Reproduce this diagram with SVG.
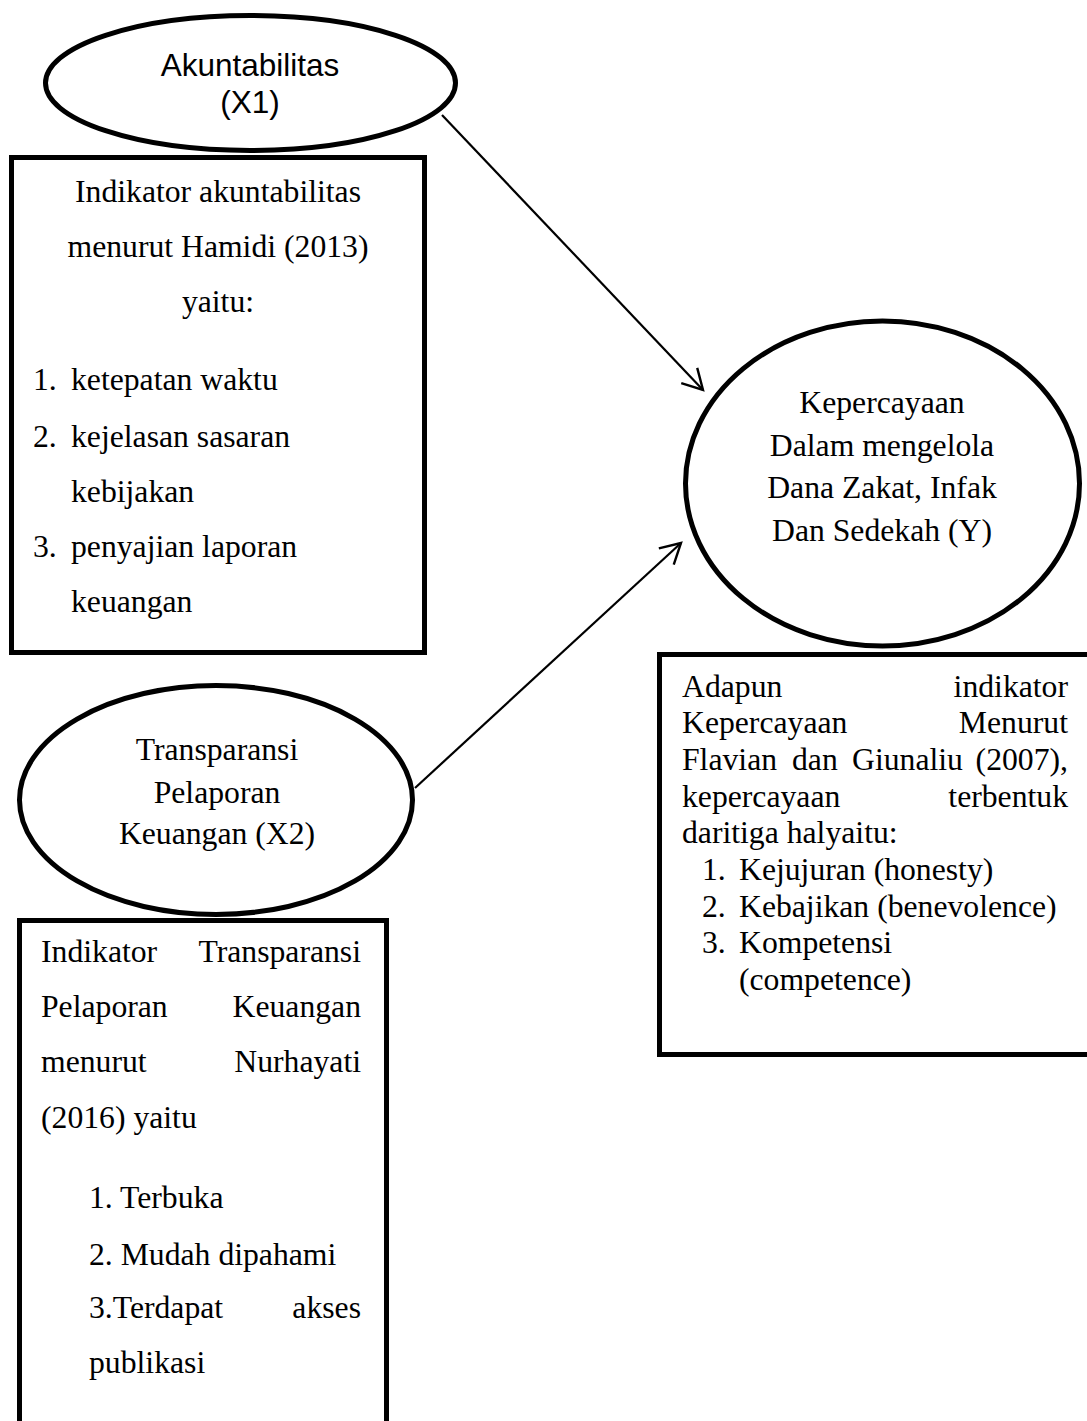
<svg xmlns="http://www.w3.org/2000/svg" width="1087" height="1421" viewBox="0 0 1087 1421">
<style>
.shape{fill:#fff;stroke:#000;stroke-width:5}
.conn{fill:none;stroke:#000;stroke-width:2.2}
.sans{font-family:"Liberation Sans",Arial,sans-serif;font-size:31.5px;fill:#000}
.serif{font-family:"Liberation Serif","Times New Roman",serif;font-size:31.7px;fill:#000}
.mid{text-anchor:middle}
.end{text-anchor:end}
</style>
<defs>
<marker id="arr" markerUnits="userSpaceOnUse" viewBox="-24 -14 27 28" markerWidth="27" markerHeight="28" refX="0" refY="0" orient="auto">
<path d="M-20,-11 L0,0 L-20,11" fill="none" stroke="#000" stroke-width="2.4"/>
</marker>
</defs>
<rect width="1087" height="1421" fill="#fff"/>

<g id="connectors">
<line class="conn" x1="442" y1="115" x2="703" y2="390" marker-end="url(#arr)"/>
<line class="conn" x1="415" y1="788" x2="681" y2="543" marker-end="url(#arr)"/>
</g>

<g id="box-x1-indicators">
<rect class="shape" x="11.5" y="157.5" width="413" height="495"/>
<text class="serif mid" x="218" y="202">Indikator akuntabilitas</text>
<text class="serif mid" x="218" y="257">menurut Hamidi (2013)</text>
<text class="serif mid" x="218" y="312">yaitu:</text>
<text class="serif" x="33" y="390">1.</text><text class="serif" x="71" y="390">ketepatan waktu</text>
<text class="serif" x="33" y="447">2.</text><text class="serif" x="71" y="447">kejelasan sasaran</text>
<text class="serif" x="71" y="502">kebijakan</text>
<text class="serif" x="33" y="557">3.</text><text class="serif" x="71" y="557">penyajian laporan</text>
<text class="serif" x="71" y="612">keuangan</text>
</g>

<g id="node-x1">
<ellipse class="shape" cx="250.5" cy="83" rx="205" ry="67.5"/>
<text class="sans mid" x="250" y="76">Akuntabilitas</text>
<text class="sans mid" x="250" y="113">(X1)</text>
</g>

<g id="box-y-indicators">
<rect class="shape" x="659.5" y="654.5" width="440" height="400"/>
<text class="serif" x="682" y="697">Adapun</text><text class="serif end" x="1068" y="697">indikator</text>
<text class="serif" x="682" y="733">Kepercayaan</text><text class="serif end" x="1068" y="733">Menurut</text>
<text class="serif" x="682" y="770">Flavian</text><text class="serif" x="792" y="770">dan</text><text class="serif" x="852" y="770">Giunaliu</text><text class="serif end" x="1068" y="770">(2007),</text>
<text class="serif" x="682" y="807">kepercayaan</text><text class="serif end" x="1068" y="807">terbentuk</text>
<text class="serif" x="682" y="843">daritiga halyaitu:</text>
<text class="serif" x="702" y="880">1.</text><text class="serif" x="739" y="880">Kejujuran (honesty)</text>
<text class="serif" x="702" y="917">2.</text><text class="serif" x="739" y="917">Kebajikan (benevolence)</text>
<text class="serif" x="702" y="953">3.</text><text class="serif" x="739" y="953">Kompetensi</text>
<text class="serif" x="739" y="990">(competence)</text>
</g>

<g id="node-y">
<ellipse class="shape" cx="882.5" cy="483.5" rx="197" ry="162.5"/>
<text class="serif mid" x="882" y="413">Kepercayaan</text>
<text class="serif mid" x="882" y="456">Dalam mengelola</text>
<text class="serif mid" x="882" y="498">Dana Zakat, Infak</text>
<text class="serif mid" x="882" y="541">Dan Sedekah (Y)</text>
</g>

<g id="box-x2-indicators">
<rect class="shape" x="19.5" y="920.5" width="367" height="600"/>
<text class="serif" x="41" y="962">Indikator</text><text class="serif end" x="361" y="962">Transparansi</text>
<text class="serif" x="41" y="1017">Pelaporan</text><text class="serif end" x="361" y="1017">Keuangan</text>
<text class="serif" x="41" y="1072">menurut</text><text class="serif end" x="361" y="1072">Nurhayati</text>
<text class="serif" x="41" y="1128">(2016) yaitu</text>
<text class="serif" x="89" y="1208">1. Terbuka</text>
<text class="serif" x="89" y="1265">2. Mudah dipahami</text>
<text class="serif" x="89" y="1318">3.Terdapat</text><text class="serif end" x="361" y="1318">akses</text>
<text class="serif" x="89" y="1373">publikasi</text>
</g>

<g id="node-x2">
<ellipse class="shape" cx="216" cy="800" rx="196.5" ry="114.5"/>
<text class="serif mid" x="217" y="760">Transparansi</text>
<text class="serif mid" x="217" y="803">Pelaporan</text>
<text class="serif mid" x="217" y="844">Keuangan (X2)</text>
</g>
</svg>
